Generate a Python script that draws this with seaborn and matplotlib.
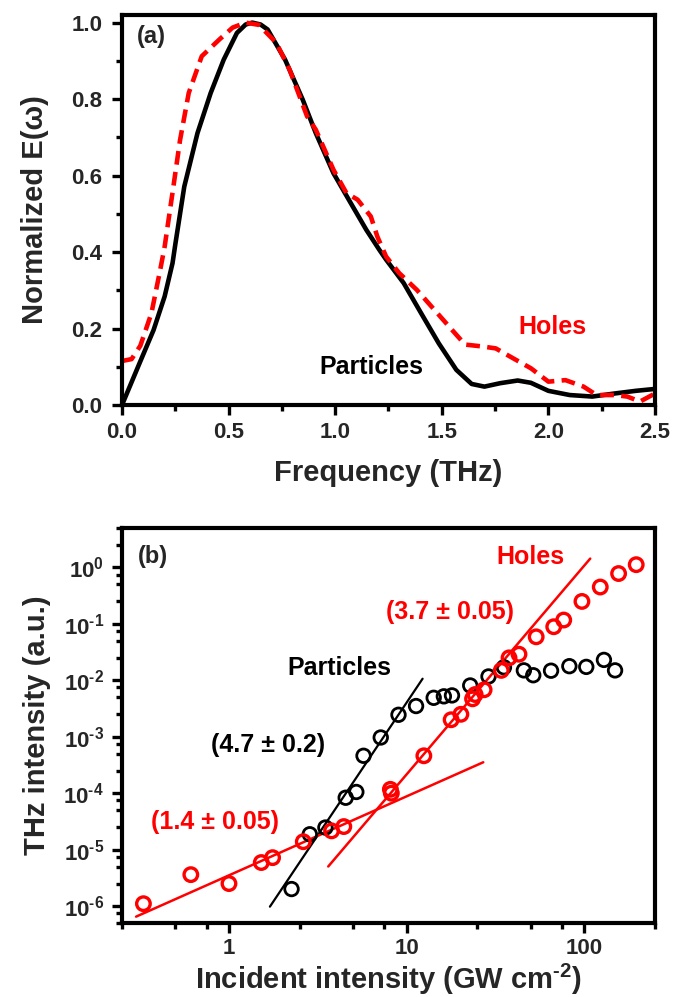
import numpy as np
import pandas as pd
import matplotlib
matplotlib.use('Agg')
import matplotlib.pyplot as plt
import seaborn as sns
from matplotlib.ticker import FixedLocator, MultipleLocator, FixedFormatter, NullFormatter

# ---------------- data: panel (a) ----------------
freq_particles = [0.0, 0.082, 0.148, 0.20, 0.237, 0.25, 0.292, 0.354, 0.416, 0.477, 0.539,
                  0.58, 0.611, 0.65, 0.683, 0.765, 0.848, 0.909, 0.992, 1.074, 1.146, 1.208,
                  1.239, 1.321, 1.403, 1.486, 1.568, 1.64, 1.70, 1.774, 1.856, 1.918, 2.0,
                  2.10, 2.206, 2.31, 2.41, 2.5]
norm_particles = [0.0, 0.109, 0.196, 0.284, 0.371, 0.42, 0.571, 0.711, 0.816, 0.903, 0.973,
                  0.995, 1.0, 0.995, 0.982, 0.903, 0.798, 0.711, 0.606, 0.527, 0.458, 0.405,
                  0.380, 0.319, 0.240, 0.161, 0.092, 0.055, 0.048, 0.057, 0.064, 0.058, 0.037,
                  0.026, 0.022, 0.030, 0.037, 0.042]

freq_holes = [0.0, 0.045, 0.086, 0.138, 0.179, 0.20, 0.241, 0.272, 0.313, 0.374, 0.457,
              0.519, 0.58, 0.642, 0.724, 0.786, 0.868, 0.909, 0.992, 1.053, 1.105, 1.167,
              1.198, 1.239, 1.30, 1.383, 1.465, 1.547, 1.609, 1.691, 1.753, 1.835, 1.918,
              2.0, 2.08, 2.165, 2.226, 2.31, 2.37, 2.43, 2.5]
norm_holes = [0.115, 0.12, 0.155, 0.240, 0.353, 0.414, 0.571, 0.692, 0.816, 0.912, 0.956,
              0.987, 1.0, 0.994, 0.947, 0.877, 0.755, 0.72, 0.615, 0.554, 0.537, 0.493,
              0.44, 0.388, 0.345, 0.301, 0.249, 0.197, 0.158, 0.153, 0.148, 0.122, 0.096,
              0.061, 0.065, 0.048, 0.026, 0.026, 0.022, 0.009, 0.030]

# ---------------- data: panel (b) ----------------
inc_particles = [2.25, 2.85, 3.49, 4.54, 5.21, 5.72, 7.15, 9.0, 11.3, 14.2, 16.2, 18.0,
                 22.8, 28.9, 35.3, 45.7, 51.6, 65.0, 82.4, 102.6, 129.0, 149.0]
thz_particles = [2.0e-6, 1.87e-5, 2.46e-5, 8.3e-5, 1.05e-4, 4.6e-4, 9.7e-4, 2.45e-3, 3.5e-3,
                 4.9e-3, 5.2e-3, 5.4e-3, 8.1e-3, 1.17e-2, 1.7e-2, 1.5e-2, 1.23e-2, 1.48e-2,
                 1.78e-2, 1.73e-2, 2.3e-2, 1.5e-2]

inc_holes = [0.33, 0.61, 1.0, 1.52, 1.76, 2.62, 3.78, 4.43, 8.1, 8.2, 12.5, 17.8, 20.2,
             23.5, 24.3, 27.3, 34.1, 37.7, 42.9, 53.6, 67.3, 76.6, 97.0, 123.0, 156.0, 196.0]
thz_holes = [1.1e-6, 3.6e-6, 2.5e-6, 5.9e-6, 7.2e-6, 1.38e-5, 2.15e-5, 2.56e-5, 1.17e-4,
             1.0e-4, 4.6e-4, 2.0e-3, 2.5e-3, 4.7e-3, 5.6e-3, 6.8e-3, 1.5e-2, 2.5e-2, 2.9e-2,
             5.9e-2, 8.9e-2, 0.117, 0.25, 0.45, 0.78, 1.12]

# power-law fits: exponent, prefactor, x-range
fit_particles_n, fit_particles_A, fit_particles_x = 4.7, 8.05e-8, [1.7, 12.3]
fit_holes_hi_n, fit_holes_hi_A, fit_holes_hi_x = 3.7, 4.3e-8, [3.62, 108.0]
fit_holes_lo_n, fit_holes_lo_A, fit_holes_lo_x = 1.4, 3.5e-6, [0.30, 27.0]

# tick labels
xticks_a = [0.0, 0.5, 1.0, 1.5, 2.0, 2.5]
yticks_a = [0.0, 0.2, 0.4, 0.6, 0.8, 1.0]
xticks_b = [1, 10, 100]
xticklabels_b = ['1', '10', '100']
yexp_b = [-6, -5, -4, -3, -2, -1, 0]

# ---------------- style ----------------
sns.set_style('ticks')
plt.rcParams['font.family'] = ['Liberation Sans', 'DejaVu Sans']
plt.rcParams['font.weight'] = 'bold'
plt.rcParams['axes.labelweight'] = 'bold'
plt.rcParams['mathtext.fontset'] = 'custom'
plt.rcParams['mathtext.rm'] = 'Liberation Sans:bold'
plt.rcParams['mathtext.bf'] = 'Liberation Sans:bold'
plt.rcParams['mathtext.it'] = 'Liberation Sans:bold'
plt.rcParams['mathtext.sf'] = 'Liberation Sans:bold'
plt.rcParams['mathtext.default'] = 'rm'

RED = '#ff0000'
fig = plt.figure(figsize=(6.87, 9.97), dpi=100)

def style_axes(ax):
    for s in ax.spines.values():
        s.set_linewidth(3.0)
        s.set_color('black')
    ax.tick_params(which='both', direction='out', top=False, right=False,
                   width=2.4, color='black')
    ax.tick_params(which='major', length=7)
    ax.tick_params(which='minor', length=4)

def pow_label(e):
    if e < 0:
        return r'$\mathrm{10^{\text{-}%d}}$' % (-e)
    return r'$\mathrm{10^{%d}}$' % e

# ---------------- panel (a) ----------------
ax1 = fig.add_axes([0.1776, 0.5938, 0.7758, 0.3912])
dfp = pd.DataFrame({'f': freq_particles, 'v': norm_particles})
dfh = pd.DataFrame({'f': freq_holes, 'v': norm_holes})
sns.lineplot(data=dfp, x='f', y='v', ax=ax1, color='black', lw=3.3, estimator=None)
sns.lineplot(data=dfh, x='f', y='v', ax=ax1, color=RED, lw=3.3, estimator=None,
             linestyle=(0, (3, 1.6)))
ax1.set_xlim(0, 2.5)
ax1.set_ylim(0, 1.02)
ax1.xaxis.set_major_locator(FixedLocator(xticks_a))
ax1.xaxis.set_major_formatter(FixedFormatter([f'{t:.1f}' for t in xticks_a]))
ax1.xaxis.set_minor_locator(MultipleLocator(0.25))
ax1.yaxis.set_major_locator(FixedLocator(yticks_a))
ax1.yaxis.set_major_formatter(FixedFormatter([f'{t:.1f}' for t in yticks_a]))
ax1.yaxis.set_minor_locator(MultipleLocator(0.1))
style_axes(ax1)
ax1.tick_params(axis='both', which='major', labelsize=16)
ax1.tick_params(axis='x', which='major', pad=5)
ax1.tick_params(axis='y', which='major', pad=7)
for lab in ax1.get_xticklabels() + ax1.get_yticklabels():
    lab.set_fontweight('bold')
ax1.set_xlabel('Frequency (THz)', fontsize=21, fontweight='bold', labelpad=12)
ax1.set_ylabel('Normalized E(ω)', fontsize=21, fontweight='bold', labelpad=16)
ax1.text(0.056, 0.946, '(a)', transform=ax1.transAxes, fontsize=17, fontweight='bold',
         ha='center', va='center')
ax1.text(0.808, 0.201, 'Holes', transform=ax1.transAxes, fontsize=18, fontweight='bold',
         ha='center', va='center', color=RED)
ax1.text(0.467, 0.098, 'Particles', transform=ax1.transAxes, fontsize=18, fontweight='bold',
         ha='center', va='center', color='black')

# ---------------- panel (b) ----------------
ax2 = fig.add_axes([0.1776, 0.0742, 0.7758, 0.3962])
ax2.set_xscale('log')
ax2.set_yscale('log')

def fit_df(xr, A, n):
    xs = np.array(xr, dtype=float)
    return pd.DataFrame({'x': xs, 'y': A * xs ** n})

sns.lineplot(data=fit_df(fit_particles_x, fit_particles_A, fit_particles_n), x='x', y='y',
             ax=ax2, color='black', lw=1.6, estimator=None)
sns.lineplot(data=fit_df(fit_holes_hi_x, fit_holes_hi_A, fit_holes_hi_n), x='x', y='y',
             ax=ax2, color=RED, lw=1.8, estimator=None)
sns.lineplot(data=fit_df(fit_holes_lo_x, fit_holes_lo_A, fit_holes_lo_n), x='x', y='y',
             ax=ax2, color=RED, lw=1.8, estimator=None)

sns.scatterplot(x=inc_particles, y=thz_particles, ax=ax2, marker='o', s=95,
                facecolor='none', edgecolor='black', linewidth=2.0, zorder=3)
sns.scatterplot(x=inc_holes, y=thz_holes, ax=ax2, marker='o', s=95,
                facecolor='none', edgecolor=RED, linewidth=2.4, zorder=4)

ax2.set_xlim(0.25, 250)
ax2.set_ylim(5e-7, 5)
ax2.xaxis.set_major_locator(FixedLocator(xticks_b))
ax2.xaxis.set_major_formatter(FixedFormatter(xticklabels_b))
ax2.xaxis.set_minor_locator(FixedLocator([m * 10.0 ** e for e in range(-1, 3) for m in (2.5, 5, 7.5)]))
ax2.xaxis.set_minor_formatter(NullFormatter())
ax2.yaxis.set_major_locator(FixedLocator([10.0 ** e for e in yexp_b]))
ax2.yaxis.set_major_formatter(FixedFormatter([pow_label(e) for e in yexp_b]))
ax2.yaxis.set_minor_locator(FixedLocator([m * 10.0 ** e for e in range(-7, 1) for m in (2.5, 5, 7.5)]))
ax2.yaxis.set_minor_formatter(NullFormatter())
style_axes(ax2)
ax2.tick_params(axis='both', which='major', labelsize=16)
ax2.tick_params(axis='x', which='major', pad=4)
ax2.tick_params(axis='y', which='major', pad=6)
for lab in ax2.get_xticklabels() + ax2.get_yticklabels():
    lab.set_fontweight('bold')
ax2.set_xlabel(r'Incident intensity (GW cm$^{\text{-}\mathrm{2}}$)', fontsize=21,
               fontweight='bold', labelpad=2)
ax2.set_ylabel('THz intensity (a.u.)', fontsize=21, fontweight='bold', labelpad=9)

ax2.text(0.058, 0.927, '(b)', transform=ax2.transAxes, fontsize=17, fontweight='bold',
         ha='center', va='center')
ax2.text(0.767, 0.927, 'Holes', transform=ax2.transAxes, fontsize=18, fontweight='bold',
         ha='center', va='center', color=RED)
ax2.text(0.615, 0.788, '(3.7 ± 0.05)', transform=ax2.transAxes, fontsize=18, fontweight='bold',
         ha='center', va='center', color=RED)
ax2.text(0.408, 0.645, 'Particles', transform=ax2.transAxes, fontsize=18, fontweight='bold',
         ha='center', va='center', color='black')
ax2.text(0.274, 0.451, '(4.7 ± 0.2)', transform=ax2.transAxes, fontsize=18, fontweight='bold',
         ha='center', va='center', color='black')
ax2.text(0.174, 0.256, '(1.4 ± 0.05)', transform=ax2.transAxes, fontsize=18, fontweight='bold',
         ha='center', va='center', color=RED)

fig.savefig('out.png', dpi=100)
